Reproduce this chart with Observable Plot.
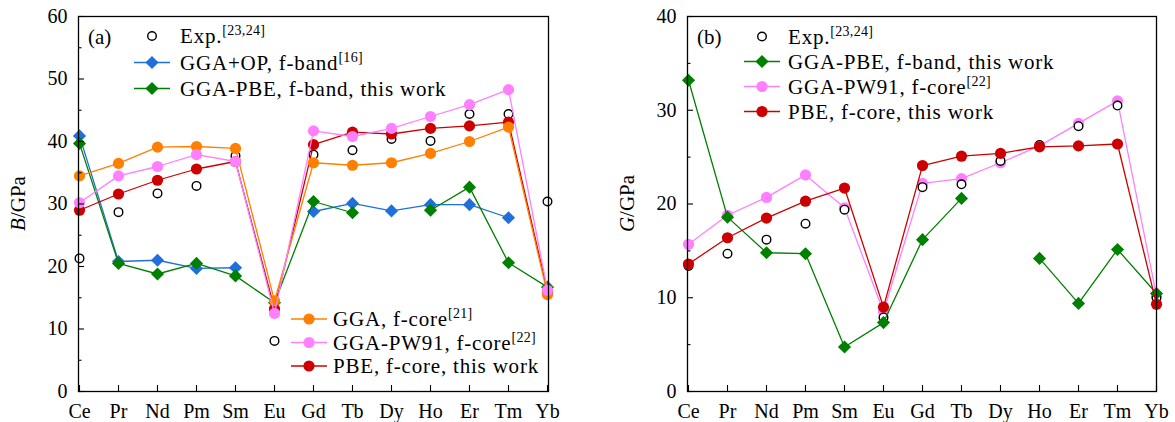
<!DOCTYPE html>
<html><head><meta charset="utf-8">
<script src="https://cdn.jsdelivr.net/npm/d3@7"></script>
<script src="https://cdn.jsdelivr.net/npm/@observablehq/plot@0.6"></script>
<style>
body{margin:0;background:#fff;}
#wrap{display:flex;width:1175px;height:422px;overflow:hidden;}
#wrap svg{flex:none;}
#wrap svg, #wrap svg text{font-family:'Liberation Serif','Times New Roman',serif !important;}
</style></head><body><div id="wrap"></div>
<script>
const elements = ["Ce","Pr","Nd","Pm","Sm","Eu","Gd","Tb","Dy","Ho","Er","Tm","Yb"];
// Panel (a): bulk modulus B / GPa
const B_exp          = [21.3,28.7,31.7,32.9,37.7,8.1,37.9,38.6,40.4,40.1,44.4,44.4,30.4];
const B_ggaOP_band   = [40.9,20.8,21.0,19.7,19.8,null,28.8,30.1,28.9,29.9,29.9,27.8,null];
const B_ggaPBE_band  = [39.7,20.5,18.8,20.5,18.5,14.2,30.4,28.6,null,29.0,32.7,20.6,16.7];
const B_gga_core     = [34.5,36.5,39.1,39.2,38.9,14.5,36.6,36.2,36.6,38.1,40.0,42.3,15.5];
const B_pw91_core    = [30.2,34.5,36.0,37.9,36.8,12.5,41.7,40.8,42.1,44.0,45.9,48.3,16.2];
const B_pbe_core     = [29.0,31.6,33.8,35.6,36.8,13.2,39.5,41.5,41.2,42.1,42.5,43.1,16.0];
const B_ticks = [0,10,20,30,40,50,60];
const B_minor = [5,15,25,35,45,55];
// Panel (b): shear modulus G / GPa
const G_exp          = [13.4,14.7,16.2,17.9,19.4,7.9,21.8,22.1,24.6,26.3,28.3,30.5,10.0];
const G_ggaPBE_band  = [33.2,18.6,14.8,14.7,4.75,7.35,16.2,20.6,null,14.2,9.4,15.15,10.45];
const G_pw91_core    = [15.7,18.8,20.7,23.1,19.6,8.5,22.2,22.7,24.4,26.2,28.6,31.0,10.2];
const G_pbe_core     = [13.6,16.4,18.5,20.3,21.7,9.0,24.1,25.1,25.4,26.1,26.2,26.4,9.3];
const G_ticks = [0,10,20,30,40];
const G_minor = [5,15,25,35];

const C = {blue:"#1f6fdc", green:"#008000", orange:"#ff8000", pink:"#ff80ff", red:"#cc0000"};
const RC = 5.6, RD = 5.9, RE = 4.3;
const FONT = "'Liberation Serif', 'Times New Roman', serif";

const series = vals => elements.map((e,i)=>({el:e, v:vals[i]}));
function lineDots(vals, color, symbol, r){
  const d = series(vals);
  return [Plot.line(d,{x:"el",y:"v",stroke:color,strokeWidth:1.3}),
          Plot.dot(d,{x:"el",y:"v",fill:color,symbol,r})];
}
function expDots(vals){
  return Plot.dot(series(vals),{x:"el",y:"v",symbol:"circle",r:RE,fill:"white",stroke:"black",strokeWidth:1.4});
}

const H = 422, MT = 16, MB = 31;
function makePanel({width, ml, mr, ymax, ticks, minor, marks}){
  const ph = H - MT - MB, pw = width - ml - mr;
  return Plot.plot({
    width, height:H, marginLeft:ml, marginRight:mr, marginTop:MT, marginBottom:MB,
    x:{type:"point", domain:elements, padding:0},
    y:{domain:[0,ymax]},
    style:{fontFamily:FONT, background:"white"},
    marks:[
      ...marks,
      Plot.tickX(elements,{x:d=>d, stroke:"black", strokeWidth:1.1, insetTop:ph-6}),
      Plot.tickY(ticks,{y:d=>d, stroke:"black", strokeWidth:1.1, insetRight:pw-6}),
      Plot.tickY(minor,{y:d=>d, stroke:"black", strokeWidth:1.1, insetRight:pw-3.5}),
      Plot.axisX({tickSize:0, tickPadding:12, fontSize:20, label:null, fill:"black"}),
      Plot.axisY({ticks, tickSize:0, tickPadding:11, fontSize:20, label:null, fill:"black"}),
      Plot.frame({stroke:"black", strokeWidth:1.3})
    ]
  });
}

const plotA = makePanel({width:587, ml:78, mr:39, ymax:60, ticks:B_ticks, minor:B_minor, marks:[
  expDots(B_exp),
  ...lineDots(B_ggaOP_band, C.blue, "diamond2", RD),
  ...lineDots(B_ggaPBE_band, C.green, "diamond2", RD),
  ...lineDots(B_pbe_core, C.red, "circle", RC),
  ...lineDots(B_gga_core, C.orange, "circle", RC),
  ...lineDots(B_pw91_core, C.pink, "circle", RC)
]});
const plotB = makePanel({width:588, ml:100, mr:19, ymax:40, ticks:G_ticks, minor:G_minor, marks:[
  ...lineDots(G_pw91_core, C.pink, "circle", RC),
  expDots(G_exp),
  ...lineDots(G_ggaPBE_band, C.green, "diamond2", RD),
  ...lineDots(G_pbe_core, C.red, "circle", RC)
]});
document.getElementById("wrap").append(plotA, plotB);

const FS = 21, LS = "0.8px";
function ylabel(svg, x, sym){
  const t = d3.select(svg).append("text")
    .attr("transform",`translate(${x},203.5) rotate(-90)`)
    .attr("text-anchor","middle").attr("font-family",FONT).attr("font-size",FS).attr("fill","black");
  t.append("tspan").attr("font-style","italic").text(sym);
  t.append("tspan").text("/GPa");
}
function panelTag(svg, x, label){
  d3.select(svg).append("text").attr("x",x).attr("y",44).attr("text-anchor","start")
    .attr("font-family",FONT).attr("font-size",FS).attr("fill","black").text(label);
}
function legendRow(svg, {y, x0, x1, xm, xt, color, kind, text, sup}){
  const g = d3.select(svg).append("g");
  if (kind === "exp") {
    g.append("circle").attr("cx",xm).attr("cy",y).attr("r",RE).attr("fill","white").attr("stroke","black").attr("stroke-width",1.4);
  } else {
    g.append("line").attr("x1",x0).attr("x2",x1).attr("y1",y).attr("y2",y).attr("stroke",color).attr("stroke-width",1.3);
    if (kind === "diamond") {
      g.append("path").attr("transform",`translate(${xm},${y})`)
        .attr("d", d3.symbol(d3.symbolDiamond2, Math.PI*RD*RD)()).attr("fill",color);
    } else {
      g.append("circle").attr("cx",xm).attr("cy",y).attr("r",RC).attr("fill",color);
    }
  }
  const t = g.append("text").attr("x",xt).attr("y",y+7).attr("text-anchor","start")
    .attr("font-family",FONT).attr("font-size",FS).attr("letter-spacing",LS).attr("fill","black");
  t.append("tspan").text(text);
  if (sup) t.append("tspan").attr("font-size",14).attr("dy",-8).attr("letter-spacing","0.3px").text(sup);
}

// Panel (a) annotations
ylabel(plotA, 25, "B");
panelTag(plotA, 88, "(a)");
[
  {y:36,   kind:"exp",     color:"black",  text:"Exp.", sup:"[23,24]"},
  {y:62.5, kind:"diamond", color:C.blue,   text:"GGA+OP, f-band", sup:"[16]"},
  {y:88.5, kind:"diamond", color:C.green,  text:"GGA-PBE, f-band, this work"}
].forEach(r => legendRow(plotA, {...r, x0:134, x1:170, xm:152, xt:180}));
[
  {y:319, kind:"circle", color:C.orange, text:"GGA, f-core", sup:"[21]"},
  {y:342.5, kind:"circle", color:C.pink, text:"GGA-PW91, f-core", sup:"[22]"},
  {y:366, kind:"circle", color:C.red,    text:"PBE, f-core, this work"}
].forEach(r => legendRow(plotA, {...r, x0:291, x1:327, xm:309, xt:333}));

// Panel (b) annotations
ylabel(plotB, 47, "G");
panelTag(plotB, 110, "(b)");
[
  {y:36.5, kind:"exp",     color:"black",  text:"Exp.", sup:"[23,24]"},
  {y:61.5, kind:"diamond", color:C.green,  text:"GGA-PBE, f-band, this work"},
  {y:86.5, kind:"circle",  color:C.pink,   text:"GGA-PW91, f-core", sup:"[22]"},
  {y:111.5,kind:"circle",  color:C.red,    text:"PBE, f-core, this work"}
].forEach(r => legendRow(plotB, {...r, x0:157, x1:193, xm:175, xt:201}));
</script></body></html>
